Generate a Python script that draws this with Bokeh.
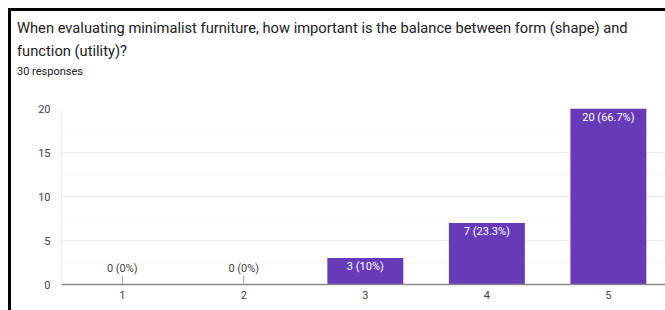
from bokeh.plotting import figure
from bokeh.models import (ColumnDataSource, Range1d, FixedTicker, LabelSet, Div)
from bokeh.layouts import column, row
from bokeh.core.properties import value
from bokeh.embed import file_html
from bokeh.resources import INLINE

# ---- data ----
title_line1 = "When evaluating minimalist furniture, how important is the balance between form (shape) and"
title_line2 = "function (utility)?"
subtitle = "30 responses"
categories = [1, 2, 3, 4, 5]
counts = [0, 0, 3, 7, 20]
y_ticks = [0, 5, 10, 15, 20]
y_minor = [2.5, 7.5, 12.5, 17.5]

total = sum(counts)


def pct_text(v):
    p = round(v / total * 100, 1)
    s = ("%.1f" % p).rstrip("0").rstrip(".")
    return f"{v} ({s}%)"


labels = [pct_text(v) for v in counts]

pos_src = ColumnDataSource(dict(
    x=[c for c, v in zip(categories, counts) if v > 0],
    top=[v for v in counts if v > 0],
    label=[l for l, v in zip(labels, counts) if v > 0],
))
zero_src = ColumnDataSource(dict(
    x=[c for c, v in zip(categories, counts) if v == 0],
    y=[v for v in counts if v == 0],
    label=[l for l, v in zip(labels, counts) if v == 0],
))
bar_src = ColumnDataSource(dict(x=categories, top=counts))

FONT = "Roboto"

header = Div(
    text=(
        f'<div style="font-family:{FONT};color:#202124;white-space:nowrap;">'
        f'<div style="font-size:14.7px;line-height:23px;padding:6px 0 0 6px;">{title_line1}<br>{title_line2}</div>'
        f'<div style="font-size:11px;line-height:14px;padding:2px 0 0 6px;">{subtitle}</div>'
        '</div>'
    ),
    width=654, height=85, margin=0,
)

p = figure(width=654, height=214, output_backend="svg", toolbar_location=None,
           x_range=Range1d(0.5, 5.47), y_range=Range1d(0, 20),
           min_border_left=50, min_border_right=0, min_border_top=12,
           min_border_bottom=26, outline_line_color=None,
           background_fill_color="white", border_fill_color="white", margin=0)

p.vbar(x="x", top="top", width=0.625, source=bar_src,
       fill_color="#673ab7", line_color=None)

# small tick for zero-valued bars
p.scatter(x="x", y="y", source=zero_src, marker="dash", size=18, angle=1.5708,
          line_color="#a0a0a0", line_width=1)

p.add_layout(LabelSet(x="x", y="top", text="label", source=pos_src,
                      text_align="center", text_baseline="top", y_offset=-2,
                      text_color="white", text_font=value(FONT), text_font_size="11px"))
p.add_layout(LabelSet(x="x", y="y", text="label", source=zero_src,
                      text_align="center", text_baseline="bottom", y_offset=10,
                      text_color="#444444", text_font=value(FONT), text_font_size="11px"))

# axes
p.xaxis.ticker = FixedTicker(ticks=categories)
p.xaxis.axis_line_color = "#8a8a8a"
p.xaxis.axis_line_width = 1.5
p.xaxis.major_tick_line_color = None
p.xaxis.minor_tick_line_color = None
p.xaxis.major_tick_out = 0
p.xaxis.minor_tick_out = 0
p.xaxis.major_label_standoff = 6
p.xaxis.major_label_text_font = FONT
p.xaxis.major_label_text_font_size = "11px"
p.xaxis.major_label_text_color = "#444444"

p.yaxis.ticker = FixedTicker(ticks=y_ticks, minor_ticks=y_minor)
p.yaxis.axis_line_color = "#eeeeee"
p.yaxis.major_tick_line_color = None
p.yaxis.minor_tick_line_color = None
p.yaxis.major_tick_out = 0
p.yaxis.minor_tick_out = 0
p.yaxis.major_label_standoff = 11
p.yaxis.major_label_text_font = FONT
p.yaxis.major_label_text_font_size = "11px"
p.yaxis.major_label_text_color = "#444444"

p.xgrid.grid_line_color = None
p.ygrid.grid_line_color = "#ebebeb"
p.ygrid.minor_grid_line_color = "#f6f6f6"

# black frame lines (top and left) like the screenshot's border
top_bar = Div(text="", width=657, height=3, margin=0, styles={"background-color": "black"})
left_bar = Div(text="", width=3, height=299, margin=0, styles={"background-color": "black"})

layout = column(top_bar, row(left_bar, column(header, p, spacing=0), spacing=0),
                spacing=0, margin=(8, 0, 0, 8))

open("out.html", "w").write(file_html(layout, INLINE))
